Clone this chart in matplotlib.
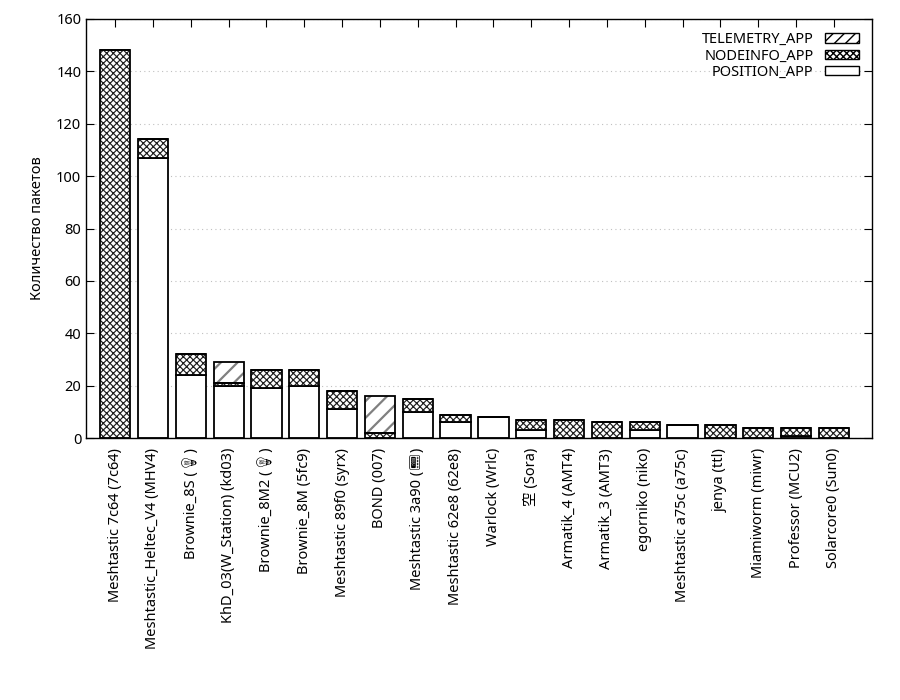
import numpy as np
import matplotlib
matplotlib.use("Agg")
import matplotlib.pyplot as plt
from matplotlib.patches import Patch

plt.rcParams['font.family'] = ['Noto Sans', 'Noto Sans CJK JP', 'Noto Emoji', 'DejaVu Sans']

# nodes, sorted by total packets
nodes = [
    "Meshtastic 7c64 (7c64)", "Meshtastic_Heltec_V4 (MHV4)", "Brownie_8S (\U0001F4A1)",
    "KhD_03(W_Station) (kd03)", "Brownie_8M2 (\U0001F4A1)", "Brownie_8M (5fc9)",
    "Meshtastic 89f0 (syrx)", "BOND (007)", "Meshtastic 3a90 (\U0001F4DF)",
    "Meshtastic 62e8 (62e8)", "Warlock (Wrlc)", "空 (Sora)", "Armatik_4 (AMT4)",
    "Armatik_3 (AMT3)", "egorniko (niko)", "Meshtastic a75c (a75c)", "jenya (ttl)",
    "Miamiworm (miwr)", "Professor (MCU2)", "Solarcore0 (Sun0)",
]
position_app = [0, 107, 24, 20, 19, 20, 11, 0, 10, 6, 8, 3, 0, 0, 3, 5, 0, 0, 1, 0]
nodeinfo_app = [148, 7, 8, 1, 7, 6, 7, 2, 5, 3, 0, 4, 7, 6, 3, 0, 5, 4, 3, 4]
telemetry_app = [0, 0, 0, 8, 0, 0, 0, 14, 0, 0, 0, 0, 0, 0, 0, 0, 0, 0, 0, 0]

pos = np.array(position_app)
info = np.array(nodeinfo_app)
tele = np.array(telemetry_app)
x = np.arange(len(nodes))
w = 0.8
lw = 1.3

fig = plt.figure(figsize=(9, 7), dpi=100)
ax = fig.add_axes([0.0956, 0.374, 0.873, 0.599])

ax.bar(x, pos, w, color='white', edgecolor='black', linewidth=lw, zorder=2)
# hatched layers: draw hatch in gray, then black outline on top
with plt.rc_context({'hatch.linewidth': 0.85}):
    ax.bar(x, info, w, bottom=pos, color='white', edgecolor='#202020', hatch='xxxxx', linewidth=0, zorder=2)
with plt.rc_context({'hatch.linewidth': 1.6}):
    ax.bar(x, tele, w, bottom=pos + info, color='white', edgecolor='#808080', hatch='//', linewidth=0, zorder=2)
ax.bar(x, info, w, bottom=pos, fill=False, edgecolor='black', linewidth=lw, zorder=3)
ax.bar(x, tele, w, bottom=pos + info, fill=False, edgecolor='black', linewidth=lw, zorder=3)

ax.set_xlim(-0.77, 20.0)
ax.set_ylim(0, 160)
ax.set_yticks(np.arange(0, 161, 20))
ax.set_xticks(x)
ax.set_xticklabels(nodes, rotation=90, fontsize=10.5)
ax.tick_params(axis='both', direction='in', top=True, right=True, length=6, labelsize=10.5)
ax.tick_params(axis='x', pad=7)
ax.yaxis.grid(True, linestyle=(0, (1, 3)), color='#c0c0c0', linewidth=0.8)
ax.set_axisbelow(True)
for s in ax.spines.values():
    s.set_linewidth(1.0)
ax.set_ylabel("Количество пакетов", fontsize=10.5, labelpad=8)

with plt.rc_context({'hatch.linewidth': 0.8}):
    handles = [
        Patch(facecolor='white', edgecolor='black', hatch='///', label='TELEMETRY_APP'),
        Patch(facecolor='white', edgecolor='black', hatch='xxxxx', label='NODEINFO_APP'),
        Patch(facecolor='white', edgecolor='black', label='POSITION_APP'),
    ]
leg = ax.legend(handles=handles, loc='upper right', frameon=False, fontsize=10.5,
                markerfirst=False, handlelength=2.3, handleheight=0.6,
                labelspacing=0.1, borderaxespad=0.5)
for t in leg.get_texts():
    t.set_ha('right')

fig.savefig("out.png", dpi=100)
